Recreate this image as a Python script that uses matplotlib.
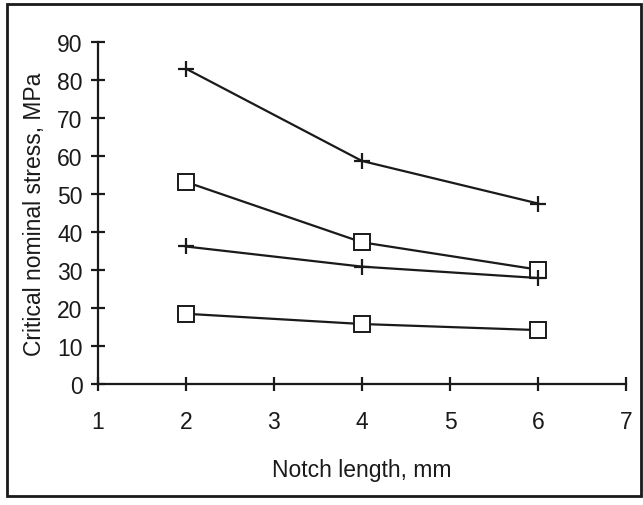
import matplotlib.pyplot as plt
from matplotlib.patches import Rectangle

plt.rcParams['font.family'] = ['Liberation Sans', 'DejaVu Sans']

notch = [2, 4, 6]
plus_high = [83, 58.7, 47.5]
square_high = [53.2, 37.3, 30.1]
plus_low = [36.2, 30.9, 27.9]
square_low = [18.5, 15.8, 14.2]

ink = '#1a1a1a'

fig = plt.figure(figsize=(6.43, 5.06), dpi=100)
ax = fig.add_axes([0.152, 0.239, 0.822, 0.676])

ax.plot(notch, plus_high, color=ink, lw=1.6, marker='+', ms=12, mew=1.6)
ax.plot(notch, square_high, color=ink, lw=1.6, marker='s', ms=11, mew=1.4, mfc='white')
ax.plot(notch, plus_low, color=ink, lw=1.6, marker='+', ms=12, mew=1.6)
ax.plot(notch, square_low, color=ink, lw=1.6, marker='s', ms=11, mew=1.4, mfc='white')

ax.set_xlim(1, 7)
ax.set_ylim(0, 90)
ax.set_xticks(range(1, 8))
ax.set_yticks(range(0, 91, 10))
for s in ['top', 'right']:
    ax.spines[s].set_visible(False)
for s in ['left', 'bottom']:
    ax.spines[s].set_linewidth(1.6)
    ax.spines[s].set_color(ink)
ax.tick_params(axis='both', direction='inout', length=10, width=1.6, colors=ink, labelsize=16.5)
ax.tick_params(axis='x', pad=14)
ax.tick_params(axis='y', pad=6)

ax.set_xlabel('Notch length, mm', fontsize=16.5, color=ink, labelpad=18)
ax.set_ylabel('Critical nominal stress, MPa', fontsize=16.5, color=ink, labelpad=8)

fig.patches.append(Rectangle((7 / 643, 1 - 497 / 506), 634 / 643, 492 / 506,
                             transform=fig.transFigure, fill=False, ec=ink, lw=2))

fig.savefig('out.png', dpi=100)
